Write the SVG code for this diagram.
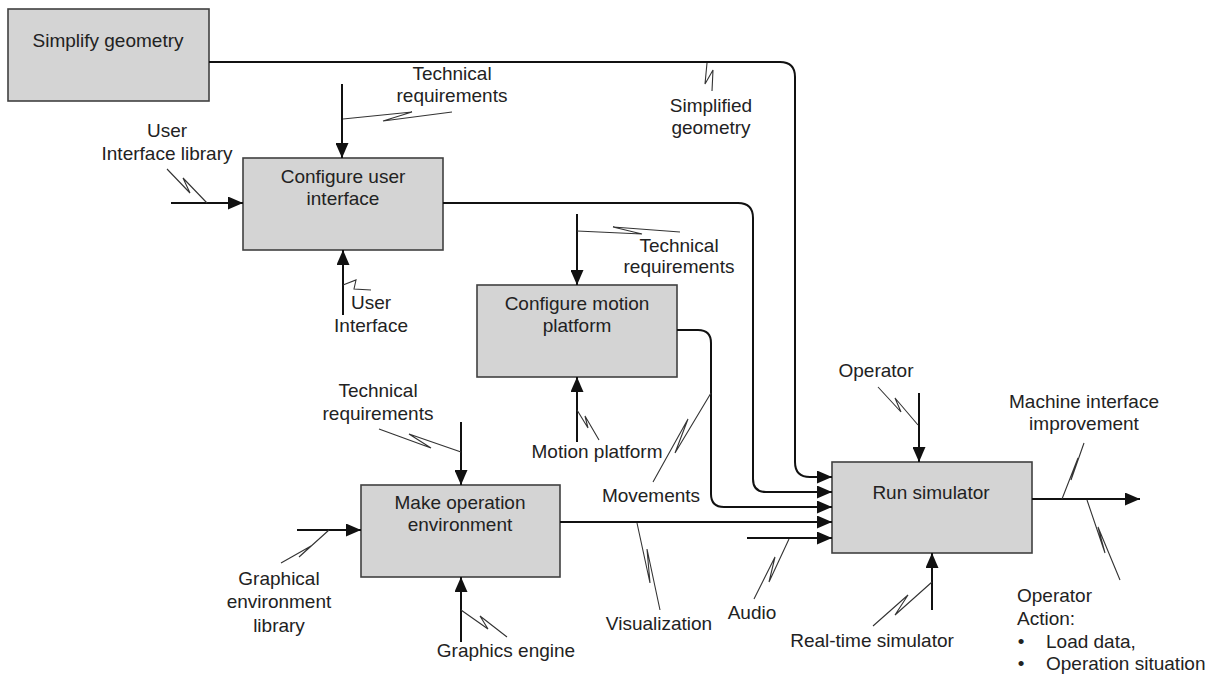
<svg xmlns="http://www.w3.org/2000/svg" width="1215" height="678" viewBox="0 0 1215 678">
  <style>
    .box { fill: #d4d4d4; stroke: #404040; stroke-width: 1.6; }
    .lbl { font-family: "Liberation Sans", Arial, sans-serif; font-size: 19px; fill: #222; }
    .mid { text-anchor: middle; }
    .arrow { fill: none; stroke: #111; stroke-width: 2; marker-end: url(#head); }
    .line { fill: none; stroke: #111; stroke-width: 2; }
    .squig { fill: none; stroke: #333; stroke-width: 1.1; stroke-linejoin: miter; }
  </style>
  <defs>
    <marker id="head" markerUnits="userSpaceOnUse" markerWidth="16" markerHeight="13" refX="15" refY="6.5" orient="auto">
      <path d="M0,0 L15,6.5 L0,13 Z" fill="#111"/>
    </marker>
  </defs>
  <rect width="1215" height="678" fill="#fff"/>

  <!-- activity boxes -->
  <g id="simplify-geometry">
    <rect class="box" x="8" y="9" width="201" height="92"/>
    <text class="lbl mid" x="108" y="47">Simplify geometry</text>
  </g>
  <g id="configure-user-interface">
    <rect class="box" x="243" y="158" width="200" height="92"/>
    <text class="lbl mid" x="343" y="183">Configure user</text>
    <text class="lbl mid" x="343" y="205">interface</text>
  </g>
  <g id="configure-motion-platform">
    <rect class="box" x="477" y="285" width="200" height="92"/>
    <text class="lbl mid" x="577" y="310">Configure motion</text>
    <text class="lbl mid" x="577" y="332">platform</text>
  </g>
  <g id="make-operation-environment">
    <rect class="box" x="361" y="485" width="199" height="92"/>
    <text class="lbl mid" x="460" y="509">Make operation</text>
    <text class="lbl mid" x="460" y="531">environment</text>
  </g>
  <g id="run-simulator">
    <rect class="box" x="832" y="462" width="200" height="91"/>
    <text class="lbl mid" x="931" y="499">Run simulator</text>
  </g>

  <!-- arrows between activities and boundary arrows -->
  <g id="connectors">
    <path class="arrow" d="M209,62 H780 Q795,62 795,77 V462 Q795,477 810,477 H832"/>
    <path class="arrow" d="M443,203 H738 Q753,203 753,218 V479 Q753,492 766,492 H832"/>
    <path class="arrow" d="M677,330 H698 Q711,330 711,343 V494 Q711,507 724,507 H832"/>
    <path class="arrow" d="M560,522 H832"/>
    <path class="arrow" d="M747,538 H832"/>
    <path class="arrow" d="M1032,499 H1140"/>
    <path class="arrow" d="M919,393 V462"/>
    <path class="arrow" d="M932,610 V553"/>
    <path class="arrow" d="M342,84 V158"/>
    <path class="arrow" d="M171,203 H243"/>
    <path class="arrow" d="M343,315 V250"/>
    <path class="arrow" d="M577,214 V285"/>
    <path class="arrow" d="M577,442 V377"/>
    <path class="arrow" d="M461,422 V485"/>
    <path class="arrow" d="M297,530 H361"/>
    <path class="arrow" d="M461,642 V577"/>

    <!-- label leaders -->
    <polyline class="squig" points="343,119 412,112 383,121 452,112"/>
    <polyline class="squig" points="167,169 190,193 183,178 207,203"/>
    <polyline class="squig" points="343,285 356,280 354,289 371,290"/>
    <polyline class="squig" points="707,63 705,84 713,70 712,91"/>
    <polyline class="squig" points="577,231 642,234 613,227 680,232"/>
    <polyline class="squig" points="577,410 588,428 585,416 599,440"/>
    <polyline class="squig" points="711,393 675,453 688,419 653,482"/>
    <polyline class="squig" points="637,523 650,583 647,549 660,610"/>
    <polyline class="squig" points="789,539 769,582 775,557 754,599"/>
    <polyline class="squig" points="878,387 901,412 895,398 918,425"/>
    <polyline class="squig" points="932,582 895,615 908,595 873,626"/>
    <polyline class="squig" points="1062,499 1078,458 1071,480 1084,443"/>
    <polyline class="squig" points="1087,500 1105,553 1098,527 1120,580"/>
    <polyline class="squig" points="379,429 431,448 409,434 461,452"/>
    <polyline class="squig" points="329,530 299,557 311,546 281,563"/>
    <polyline class="squig" points="461,610 488,629 480,616 507,637"/>
  </g>

  <!-- arrow labels -->
  <g id="labels">
    <text class="lbl mid" x="452" y="80">Technical</text>
    <text class="lbl mid" x="452" y="102">requirements</text>
    <text class="lbl mid" x="167" y="137">User</text>
    <text class="lbl mid" x="167" y="160">Interface library</text>
    <text class="lbl mid" x="371" y="309">User</text>
    <text class="lbl mid" x="371" y="332">Interface</text>
    <text class="lbl mid" x="711" y="112">Simplified</text>
    <text class="lbl mid" x="711" y="134">geometry</text>
    <text class="lbl mid" x="679" y="252">Technical</text>
    <text class="lbl mid" x="679" y="273">requirements</text>
    <text class="lbl mid" x="597" y="458">Motion platform</text>
    <text class="lbl mid" x="651" y="502">Movements</text>
    <text class="lbl mid" x="378" y="397">Technical</text>
    <text class="lbl mid" x="378" y="420">requirements</text>
    <text class="lbl mid" x="279" y="585">Graphical</text>
    <text class="lbl mid" x="279" y="608">environment</text>
    <text class="lbl mid" x="279" y="632">library</text>
    <text class="lbl mid" x="506" y="657">Graphics engine</text>
    <text class="lbl mid" x="659" y="630">Visualization</text>
    <text class="lbl mid" x="752" y="619">Audio</text>
    <text class="lbl mid" x="876" y="377">Operator</text>
    <text class="lbl mid" x="872" y="647">Real-time simulator</text>
    <text class="lbl mid" x="1084" y="408">Machine interface</text>
    <text class="lbl mid" x="1084" y="430">improvement</text>
    <text class="lbl" x="1017" y="602">Operator</text>
    <text class="lbl" x="1017" y="625">Action:</text>
    <text class="lbl mid" x="1021" y="648">•</text>
    <text class="lbl" x="1046" y="648">Load data,</text>
    <text class="lbl mid" x="1021" y="670">•</text>
    <text class="lbl" x="1046" y="670">Operation situation</text>
  </g>
</svg>
